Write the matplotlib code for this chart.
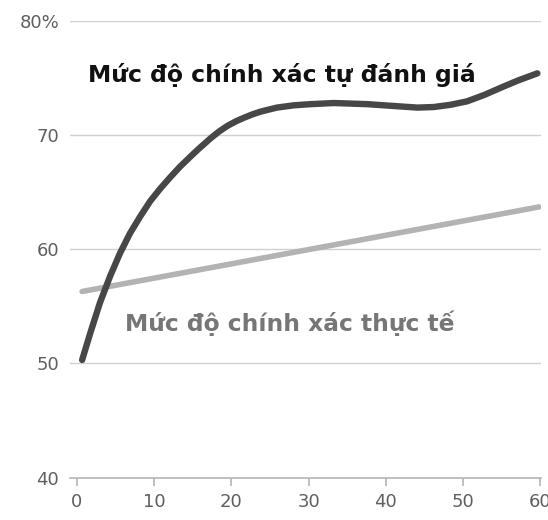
import matplotlib
matplotlib.use("Agg")
import matplotlib.pyplot as plt

# self-assessed accuracy (dark curve)
selfX = [0.7, 1.75, 3.0, 4.3, 5.6, 6.9, 8.2, 9.5, 10.8, 12.1, 13.4, 14.7, 15.8, 17.3,
         18.4, 19.5, 20.6, 21.6, 22.7, 23.8, 25.9, 28.1, 30.2, 33.3, 37.6, 41.9, 44.1,
         46.2, 48.4, 50.5, 52.7, 54.9, 57.0, 58.4, 59.6]
selfY = [50.3, 52.65, 55.3, 57.6, 59.65, 61.4, 62.85, 64.2, 65.3, 66.3, 67.25, 68.1, 68.8, 69.7,
         70.3, 70.8, 71.2, 71.5, 71.8, 72.05, 72.4, 72.6, 72.7, 72.8, 72.7, 72.5, 72.4,
         72.45, 72.65, 72.95, 73.5, 74.15, 74.75, 75.1, 75.4]

# actual accuracy (light line)
realX = [0.7, 59.8]
realY = [56.3, 63.7]

xTicks = [0, 10, 20, 30, 40, 50, 60]
yTicks = [40, 50, 60, 70, 80]
yLabels = ["40", "50", "60", "70", "80%"]

labelSelf = "Mức độ chính xác tự đánh giá"
labelReal = "Mức độ chính xác thực tế"

fig = plt.figure(figsize=(5.48, 5.2), dpi=100)
ax = fig.add_axes([0.128, 0.0815, 0.859, 0.8785])

for y in yTicks[1:]:
    ax.axhline(y, color="#d0d0d0", lw=1.0, zorder=1)

ax.plot(realX, realY, color="#b3b3b3", lw=4.0, solid_capstyle="round", zorder=2)
ax.plot(selfX, selfY, color="#474747", lw=4.6, solid_capstyle="round",
        solid_joinstyle="round", zorder=3)

ax.text(1.5, 75.25, labelSelf, fontsize=16.9, fontweight="bold", color="#111111",
        va="center", ha="left")
ax.text(6.3, 53.55, labelReal, fontsize=16.8, fontweight="bold", color="#767676",
        va="center", ha="left")

ax.set_xlim(-0.85, 60.05)
ax.set_ylim(40, 80)
ax.set_xticks(xTicks)
ax.set_yticks(yTicks)
ax.set_yticklabels(yLabels)

for s in ["left", "right", "top"]:
    ax.spines[s].set_visible(False)
ax.spines["bottom"].set_color("#b5b5b5")
ax.spines["bottom"].set_linewidth(1.2)

ax.tick_params(axis="x", colors="#b5b5b5", length=6, width=1.2, pad=5,
               labelcolor="#5f5f5f", labelsize=13)
ax.tick_params(axis="y", length=0, pad=8, labelcolor="#5f5f5f", labelsize=13)

fig.savefig("out.png", dpi=100)
